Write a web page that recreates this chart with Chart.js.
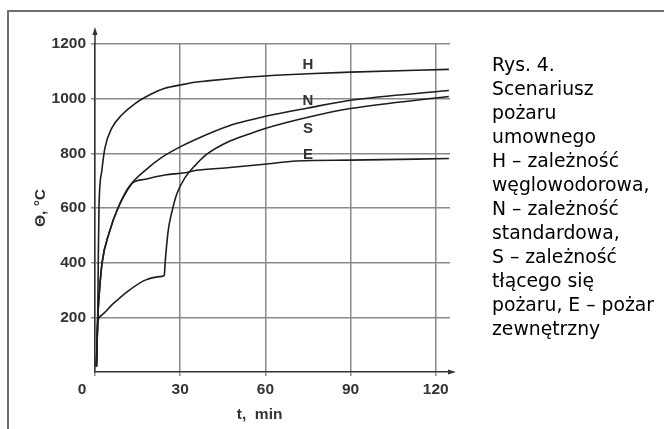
<!DOCTYPE html>
<html>
<head>
<meta charset="utf-8">
<script src="https://cdn.jsdelivr.net/npm/chart.js@4"></script>
<style>
  html, body { margin: 0; padding: 0; background: #fff; }
  #wrap { position: relative; width: 665px; height: 429px; overflow: hidden; }
  #frame { position: absolute; left: 7px; top: 10px; right: 1px; bottom: -4px;
           border-left: 2px solid #707070; border-top: 2px solid #707070; }
  #chart { position: absolute; left: 0; top: 0; }
  #caption { position: absolute; left: 492px; top: 53px; font-family: "DejaVu Sans", sans-serif;
             font-size: 18.8px; line-height: 24px; color: #000; white-space: nowrap; }
</style>
</head>
<body>
<div id="wrap">
  <div id="frame"></div>
  <canvas id="chart" width="665" height="429"></canvas>
  <div id="caption">Rys. 4.<br>Scenariusz<br>pożaru<br>umownego<br>H – zależność<br>węglowodorowa,<br>N – zależność<br>standardowa,<br>S – zależność<br>tłącego się<br>pożaru, E – pożar<br>zewnętrzny</div>
</div>
<script>
// axis ticks
const xTicks = [0, 30, 60, 90, 120];
const yTicks = [200, 400, 600, 800, 1000, 1200];

// curves: time [min] and temperature [°C]
const tH = [0.5, 0.95, 1.15, 1.4, 2.4, 3.5, 5.9, 9.4, 14.1, 20, 24.6, 30.5, 35.2, 39.5, 47.5, 59.7, 75, 90, 124.6];
const thetaH = [20, 200, 400, 600, 736, 820, 892, 940, 982, 1018, 1038, 1051, 1060, 1065, 1073, 1083, 1091, 1097, 1107];

const tN = [0.5, 0.95, 1.6, 2.5, 5, 8.1, 12.9, 17.6, 23.5, 29.3, 35.2, 47.5, 54.6, 59.7, 75, 90, 124.6];
const thetaN = [20, 190, 300, 400, 510, 600, 689, 737, 785, 820, 850, 902, 922, 935, 966, 994, 1030];

const tS = [0.5, 0.95, 2, 6.2, 12, 17.9, 23.7, 24.4, 24.7, 25.8, 27.2, 28.8, 31.7, 35.2, 39.3, 47.5, 54.6, 59.6, 75, 90, 124.6];
const thetaS = [20, 180, 205, 248, 299, 337, 350, 354, 400, 519, 591, 651, 711, 755, 796, 845, 872, 890, 932, 964, 1008];

const tE = [0.5, 0.95, 1.6, 2.5, 5, 8.1, 12.9, 17.6, 24.6, 31.7, 35.2, 47.5, 59.6, 70.9, 90, 124.6];
const thetaE = [20, 190, 300, 400, 510, 600, 689, 705, 721, 729, 737, 748, 760, 772, 775, 781];

// curve letters and where they sit
const curveNames = ['H', 'N', 'S', 'E'];
const nameT = [75, 75, 75, 75];
const nameTheta = [1123, 993, 888, 794];

const pts = (t, v) => t.map((x, i) => ({ x: x, y: v[i] }));
const tickFont = { family: "'Liberation Sans', Arial, sans-serif", size: 15.5, weight: 'bold' };
const ink = '#333';

const extras = {
    id: 'extras',
    afterDraw: chart => {
        const ctx = chart.ctx;
        const a = chart.chartArea;
        const x = chart.scales.x, y = chart.scales.y;
        ctx.save();
        ctx.strokeStyle = ink;
        ctx.fillStyle = ink;
        ctx.lineWidth = 1.5;
        // y axis goes on past 1200 with an arrow
        ctx.beginPath();
        ctx.moveTo(a.left, a.top);
        ctx.lineTo(a.left, a.top - 14);
        ctx.stroke();
        ctx.beginPath();
        ctx.moveTo(a.left, a.top - 17);
        ctx.lineTo(a.left - 2.5, a.top - 9);
        ctx.lineTo(a.left + 2.5, a.top - 9);
        ctx.closePath();
        ctx.fill();
        // x axis arrow
        ctx.beginPath();
        ctx.moveTo(a.right, a.bottom);
        ctx.lineTo(a.right + 2, a.bottom);
        ctx.stroke();
        ctx.beginPath();
        ctx.moveTo(a.right + 6, a.bottom);
        ctx.lineTo(a.right - 2, a.bottom - 2.5);
        ctx.lineTo(a.right - 2, a.bottom + 2.5);
        ctx.closePath();
        ctx.fill();
        // curve letters
        ctx.font = "bold 15px 'Liberation Sans', Arial, sans-serif";
        ctx.textAlign = 'center';
        ctx.textBaseline = 'middle';
        curveNames.forEach((n, i) => {
            ctx.fillText(n, x.getPixelForValue(nameT[i]), y.getPixelForValue(nameTheta[i]));
        });
        ctx.restore();
    }
};

const lineStyle = {
    borderColor: '#1e1e1e',
    borderWidth: 1.6,
    pointRadius: 0,
    cubicInterpolationMode: 'monotone',
    fill: false
};

new Chart(document.getElementById('chart').getContext('2d'), {
    type: 'line',
    data: {
        datasets: [
            Object.assign({ label: 'H', data: pts(tH, thetaH) }, lineStyle),
            Object.assign({ label: 'N', data: pts(tN, thetaN) }, lineStyle),
            Object.assign({ label: 'S', data: pts(tS, thetaS) }, lineStyle),
            Object.assign({ label: 'E', data: pts(tE, thetaE) }, lineStyle)
        ]
    },
    options: {
        responsive: false,
        animation: false,
        layout: { padding: { left: 0, right: 215, top: 44, bottom: 0 } },
        plugins: { legend: { display: false }, tooltip: { enabled: false } },
        scales: {
            x: {
                type: 'linear',
                min: 0,
                max: 125,
                afterFit: s => { s.height = 57; },
                afterBuildTicks: s => { s.ticks = xTicks.map(v => ({ value: v })); },
                grid: { color: '#8a8a8a', lineWidth: 1.5, tickLength: 4 },
                border: { color: ink, width: 1.5 },
                ticks: {
                    color: ink,
                    font: tickFont,
                    padding: 4,
                    maxRotation: 0,
                    callback: v => v === 0 ? '0      ' : String(v)
                },
                title: {
                    display: true,
                    text: 't,  min      ',
                    color: ink,
                    font: tickFont,
                    padding: { top: 0, bottom: 5 }
                }
            },
            y: {
                min: 0,
                max: 1200,
                afterFit: s => { s.width = 95; },
                afterBuildTicks: s => { s.ticks = yTicks.map(v => ({ value: v })); },
                grid: { color: '#8a8a8a', lineWidth: 1.5, tickLength: 4 },
                border: { color: ink, width: 1.5 },
                ticks: { color: ink, font: tickFont, padding: 5, callback: v => String(v) },
                title: {
                    display: true,
                    text: 'Θ, °C',
                    color: ink,
                    font: tickFont,
                    padding: { top: 31, bottom: 0 }
                }
            }
        }
    },
    plugins: [extras]
});
</script>
</body>
</html>
